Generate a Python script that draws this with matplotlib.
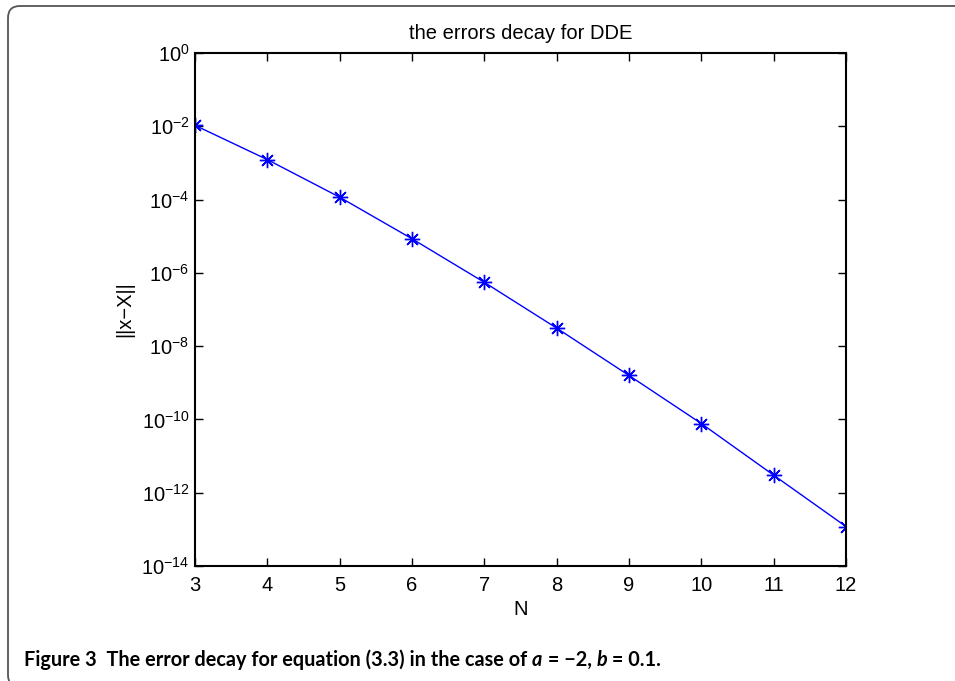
import matplotlib
matplotlib.use('Agg')
import matplotlib.pyplot as plt
from matplotlib.patches import FancyBboxPatch
from matplotlib.transforms import IdentityTransform
import numpy as np

# data
N = [3, 4, 5, 6, 7, 8, 9, 10, 11, 12]
err = [1.06e-2, 1.23e-3, 1.16e-4, 8.5e-6, 5.5e-7, 3.1e-8, 1.58e-9,
       7.7e-11, 3.0e-12, 1.19e-13]
yticks = [1e0, 1e-2, 1e-4, 1e-6, 1e-8, 1e-10, 1e-12, 1e-14]
ytick_labels = [r'$\mathregular{10^{%d}}$' % e for e in range(0, -15, -2)]

plt.rcParams['font.family'] = ['Liberation Sans', 'DejaVu Sans']
plt.rcParams['mathtext.fontset'] = 'custom'
plt.rcParams['mathtext.rm'] = 'Liberation Sans'

fig = plt.figure(figsize=(9.55, 6.81), dpi=100)
ax = fig.add_axes([0.2042, 0.1689, 0.6817, 0.7533])

ax.plot(N, err, color='#0000ff', lw=1.0, marker=(8, 2, 0), ms=11,
        mew=1.0, mec='#0000ff')
ax.set_yscale('log')
ax.set_xlim(3, 12)
ax.set_ylim(1e-14, 1e0)
ax.set_xticks(N)
ax.set_yticks(yticks)
ax.set_yticklabels(ytick_labels)
ax.yaxis.set_minor_locator(matplotlib.ticker.NullLocator())
ax.tick_params(direction='in', length=6, width=1, top=True, right=True,
               labelsize=14.5)
ax.tick_params(axis='x', pad=7)
ax.tick_params(axis='y', pad=4)
for s in ax.spines.values():
    s.set_linewidth(1.5)

ax.set_title('the errors decay for DDE', fontsize=14.5, pad=10)
ax.set_xlabel('N', fontsize=14.5, labelpad=4)
ax.set_ylabel('||x\u2212X||', fontsize=14.5, labelpad=5)

# rounded frame around the figure panel
frame = FancyBboxPatch((8, -6), 1100, 681, boxstyle='round,pad=0,rounding_size=12',
                       transform=IdentityTransform(), fill=False,
                       ec='#555555', lw=1.3)
fig.patches.append(frame)

# caption, with italic a and b
pieces = [('Figure 3  The error decay for equation (3.3) in the case of ', 'normal'),
          ('a', 'italic'), (' = \u22122, ', 'normal'), ('b', 'italic'),
          (' = 0.1.', 'normal')]
fig.canvas.draw()
r = fig.canvas.get_renderer()
x = 24
for txt, style in pieces:
    t = fig.text(x / 955, 1 - 660 / 681, txt, fontsize=14.3, fontweight='bold',
                 style=style, family='Lato', va='center', ha='left')
    x += t.get_window_extent(r).width

fig.savefig('out.png', dpi=100)
